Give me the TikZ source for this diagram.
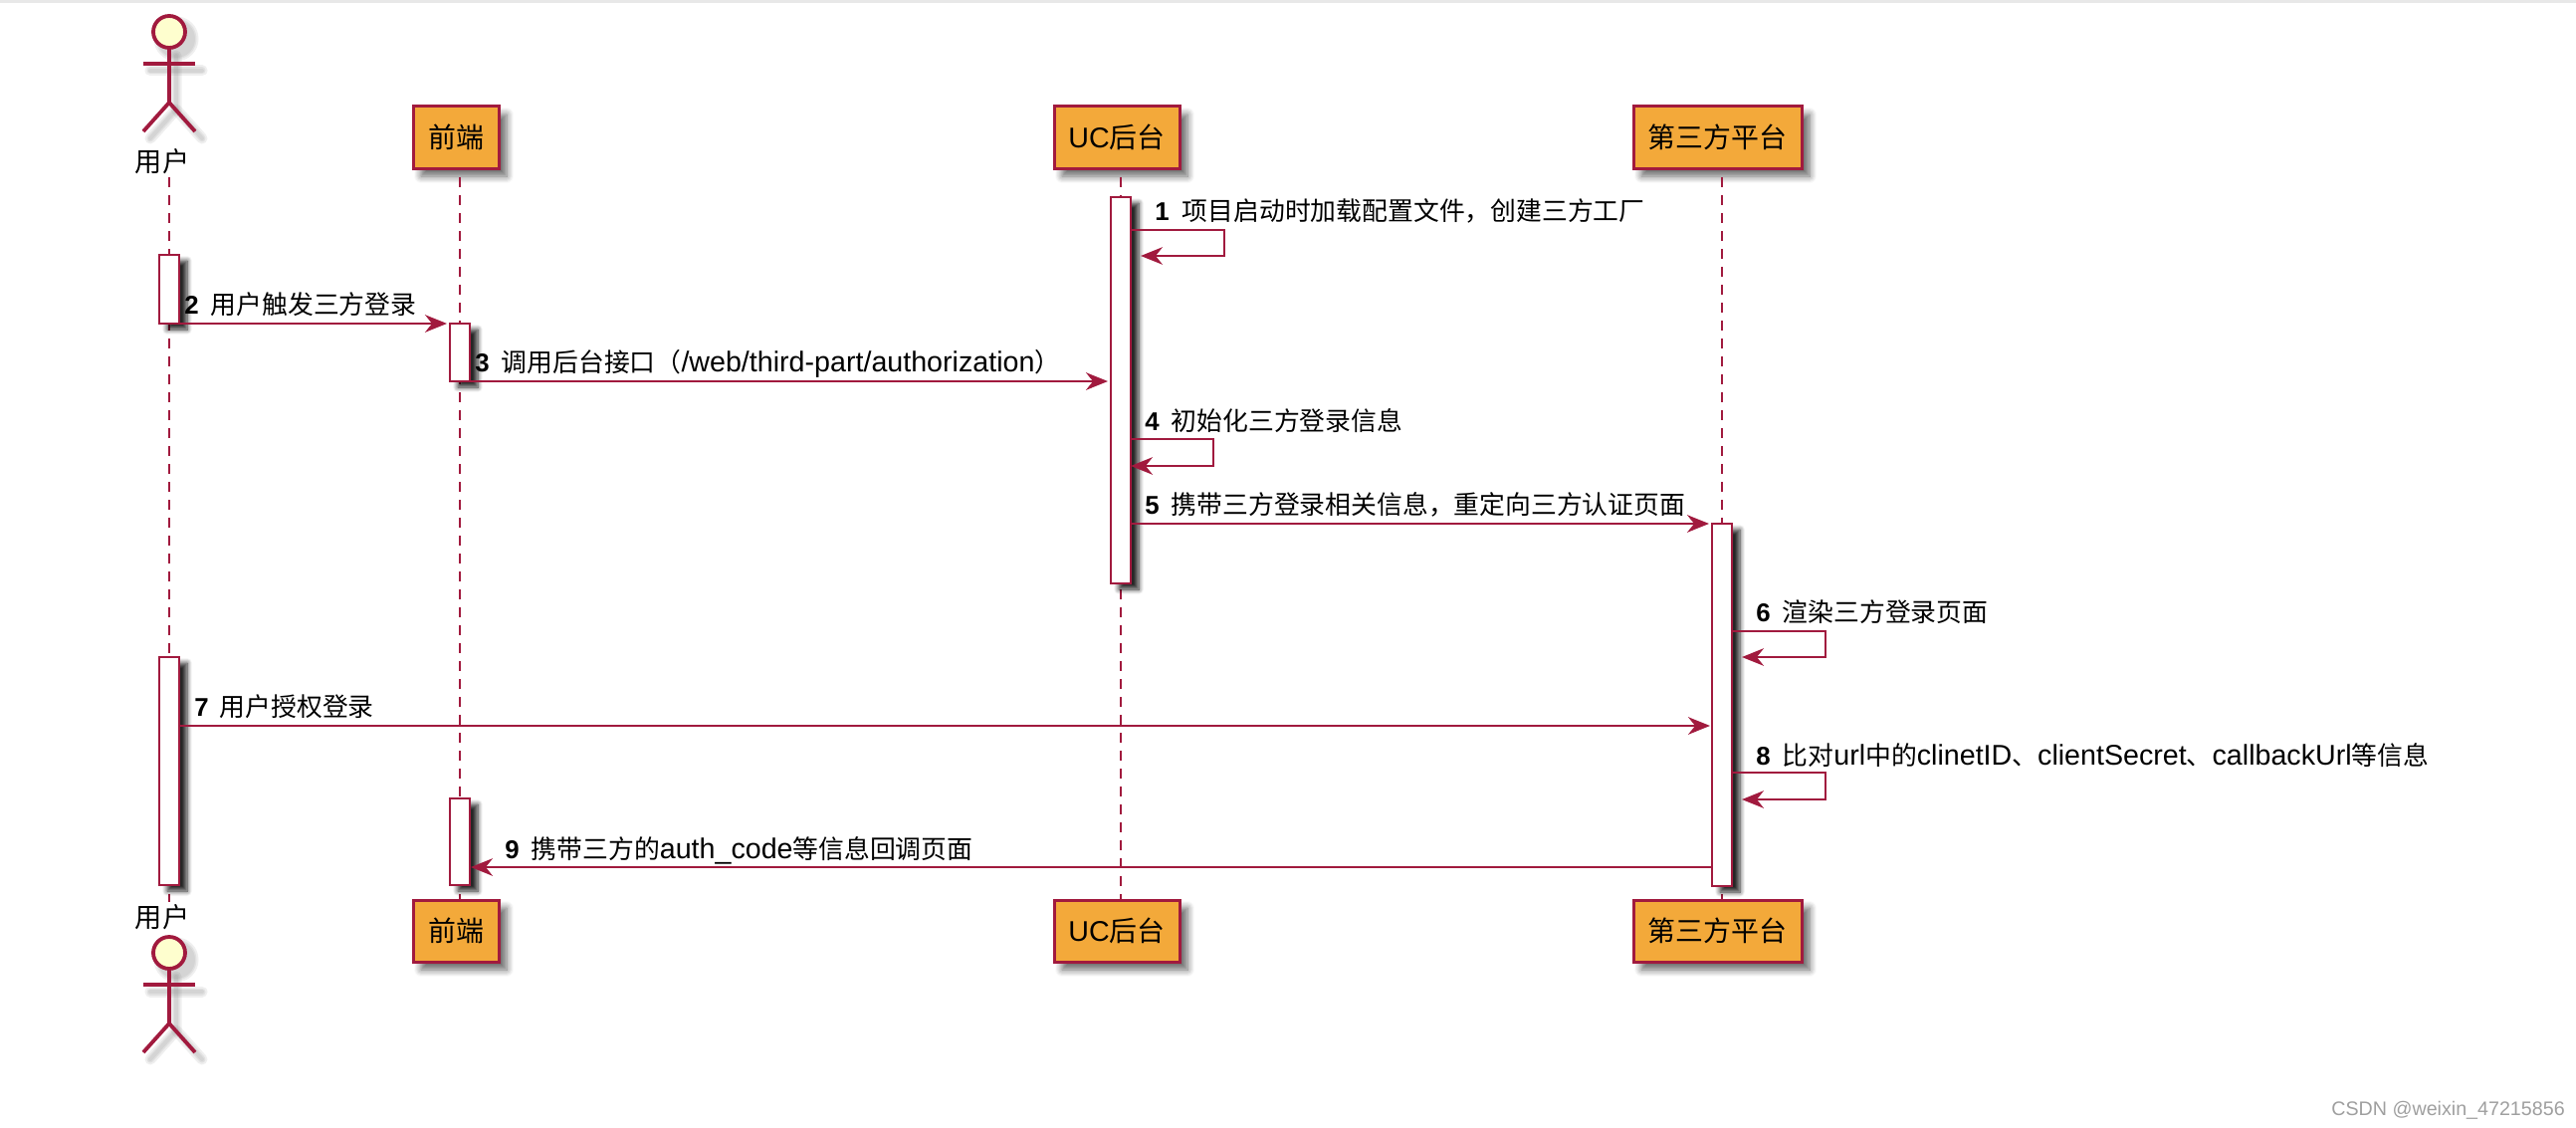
\documentclass[tikz,border=0pt]{standalone}
\usepackage{fontspec}
\setmainfont{Liberation Sans}
\newfontfamily\cjk{Noto Sans CJK SC}
\usetikzlibrary{positioning, arrows.meta, shadows.blur}
\newcommand{\px}{0.02cm}
\newlength{\pxlen}
\setlength{\pxlen}{0.02cm}
\definecolor{umlred}{HTML}{A11A3E}
\definecolor{umlbox}{HTML}{F3A93A}
\definecolor{umlhead}{HTML}{FEFECE}
\tikzset{
  txt/.style={inner sep=0pt, font=\fontsize{15.5}{17}\selectfont},
  msg/.style={inner sep=0pt, anchor=base west, font=\fontsize{14.7}{17}\selectfont},
  part/.style={draw=umlred, line width=3*\px, fill=umlbox, minimum height=62*\px, inner sep=0pt, outer sep=0pt, font=\fontsize{15.9}{17}\selectfont, blur shadow={shadow xshift=8*\px, shadow yshift=-8*\px, shadow blur steps=7, shadow blur radius=7*\px, shadow opacity=60}},
  actbar/.style={draw=umlred, line width=2*\px, fill=white, minimum width=20*\px, inner sep=0pt, outer sep=0pt, blur shadow={shadow xshift=8*\px, shadow yshift=-6*\px, shadow blur steps=7, shadow blur radius=5*\px, shadow opacity=85}},
  life/.style={umlred, line width=1.7*\px, dash pattern=on 10*\px off 8*\px},
  msgline/.style={umlred, line width=2.4*\px, -{Stealth[length=12.5pt, width=10pt, inset=4pt]}},
  figline/.style={umlred, line width=3.8*\px}
}
\newcommand{\num}[2]{{\bfseries #1}\hspace{#2\pxlen}}
\newcommand{\lat}[1]{{\fontsize{16.3}{17}\selectfont #1}}
% stick figure, #1 = y of the head centre
\newcommand{\stickshade}[1]{
  \foreach \w in {11,7,4} {
    \draw[gray, opacity=0.13, line width=\w*\px, line cap=round] (177,#1+24) -- (177,#1+78) -- (151,#1+107);
    \draw[gray, opacity=0.13, line width=\w*\px, line cap=round] (177,#1+78) -- (203,#1+107);
    \draw[gray, opacity=0.13, line width=\w*\px, line cap=round] (151,#1+39) -- (203,#1+39);
    \fill[gray, opacity=0.13] (177,#1+7) circle ({17+\w/2});
  }
}
\newcommand{\stickfig}[1]{
  \draw[figline] (170,#1+17) -- (170,#1+71) -- (144,#1+100);
  \draw[figline] (170,#1+71) -- (196,#1+100);
  \draw[figline] (144,#1+32) -- (196,#1+32);
  \draw[figline, fill=umlhead] (170,#1) circle (16);
}

\begin{document}
\begin{tikzpicture}[x=0.02cm, y=-0.02cm]
  \useasboundingbox (0,0) rectangle (2588,1132);
  \fill[gray!18] (0,0) rectangle (2588,3);

  % participants
  \node[txt] (U1) at (163,162) {\cjk 用户};
  \node[txt] (U2) at (163,921) {\cjk 用户};
  \node[part, minimum width=86*\px] (F1) at (458,138) {\cjk 前端};
  \node[part, minimum width=86*\px] (F2) at (458,935) {\cjk 前端};
  \node[part, minimum width=126*\px] (C1) at (1122,138) {\lat{UC}{\cjk 后台}};
  \node[part, minimum width=126*\px] (C2) at (1122,935) {\lat{UC}{\cjk 后台}};
  \node[part, minimum width=169*\px] (T1) at (1725.5,138) {\cjk 第三方平台};
  \node[part, minimum width=169*\px] (T2) at (1725.5,935) {\cjk 第三方平台};

  \stickshade{32}
  \stickshade{957}
  \stickfig{32}
  \stickfig{957}

  % lifelines
  \coordinate (Ux) at (170,500);
  \coordinate (Fx) at (462,500);
  \coordinate (Cx) at (1126,500);
  \coordinate (Tx) at (1730,500);
  \draw[life, shorten <=3*\px, shorten >=2*\px] (U1.south -| Ux) -- (U2.north -| Ux);
  \draw[life, shorten <=9*\px] (F1.south -| Fx) -- (F2.north -| Fx);
  \draw[life, shorten <=9*\px] (C1.south -| Cx) -- (C2.north -| Cx);
  \draw[life, shorten <=9*\px] (T1.south -| Tx) -- (T2.north -| Tx);

  % activations
  \node[actbar, minimum height=69*\px] (UA1) at (170,290.5) {};
  \node[actbar, minimum height=229*\px] (UA2) at (170,774.5) {};
  \node[actbar, minimum height=58*\px] (FA1) at (462,354) {};
  \node[actbar, minimum height=87*\px] (FA2) at (462,845.5) {};
  \node[actbar, minimum height=388*\px] (CA) at (1126,392) {};
  \node[actbar, minimum height=364*\px] (TA) at (1730,708) {};

  % messages
  \coordinate (m1a) at (1136,231);
  \coordinate (m1b) at (1146,257);
  \coordinate (m2a) at (180,325);
  \coordinate (m2b) at (449,325);
  \coordinate (m3a) at (472,383);
  \coordinate (m3b) at (1113,383);
  \coordinate (m4a) at (1136,441);
  \coordinate (m4b) at (1136,468);
  \coordinate (m5a) at (1136,526);
  \coordinate (m5b) at (1717,526);
  \coordinate (m6a) at (1740,634);
  \coordinate (m6b) at (1750,660);
  \coordinate (m7a) at (180,729);
  \coordinate (m7b) at (1718,729);
  \coordinate (m8a) at (1740,776);
  \coordinate (m8b) at (1750,803);
  \coordinate (m9a) at (1720,871);
  \coordinate (m9b) at (473,871);

  \draw[msgline] (m1a) -- ++(94,0) -- ++(0,26) -- (m1b);
  \draw[msgline] (m2a) -- (m2b);
  \draw[msgline] (m3a) -- (m3b);
  \draw[msgline] (m4a) -- ++(83,0) -- ++(0,27) -- (m4b);
  \draw[msgline] (m5a) -- (m5b);
  \draw[msgline] (m6a) -- ++(94,0) -- ++(0,26) -- (m6b);
  \draw[msgline] (m7a) -- (m7b);
  \draw[msgline] (m8a) -- ++(94,0) -- ++(0,27) -- (m8b);
  \draw[msgline] (m9a) -- (m9b);

  \node[msg] (t1) at (1160,221) {\num{1}{13}{\cjk 项目启动时加载配置文件，创建三方工厂}};
  \node[msg] (t2) at (185,315) {\num{2}{12}{\cjk 用户触发三方登录}};
  \node[msg] (t3) at (477,373) {\num{3}{12}{\cjk 调用后台接口（}\lat{/web/third-part/authorization}{\cjk ）}};
  \node[msg] (t4) at (1150,432) {\num{4}{12}{\cjk 初始化三方登录信息}};
  \node[msg] (t5) at (1150,516) {\num{5}{12}{\cjk 携带三方登录相关信息，重定向三方认证页面}};
  \node[msg] (t6) at (1764,624) {\num{6}{12}{\cjk 渲染三方登录页面}};
  \node[msg] (t7) at (195,719) {\num{7}{11}{\cjk 用户授权登录}};
  \node[msg] (t8) at (1764,768) {\num{8}{12}{\cjk 比对}\lat{url}{\cjk 中的}\lat{clinetID}{\cjk 、}\lat{clientSecret}{\cjk 、}\lat{callbackUrl}{\cjk 等信息}};
  \node[msg] (t9) at (507,862) {\num{9}{12}{\cjk 携带三方的}\lat{auth\_code}{\cjk 等信息回调页面}};

  \node[anchor=base west, inner sep=0pt, text=gray!75, font=\fontsize{11.2}{13}\selectfont] (wm) at (2342,1120) {CSDN @weixin\_47215856};
\end{tikzpicture}
\end{document}
